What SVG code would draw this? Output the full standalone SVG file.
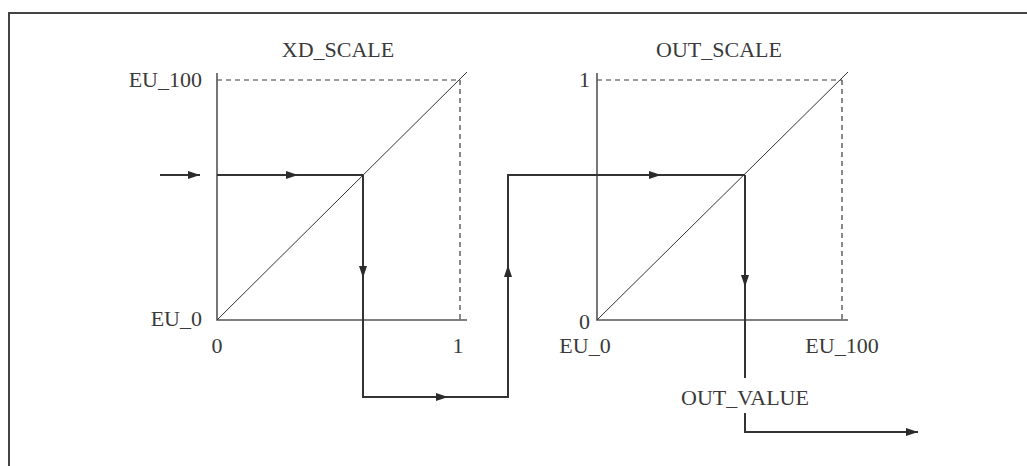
<svg xmlns="http://www.w3.org/2000/svg" width="1027" height="466" viewBox="0 0 1027 466">
<defs>
<marker id="ah" viewBox="0 0 12 8" refX="12" refY="4" markerWidth="12" markerHeight="8" markerUnits="userSpaceOnUse" orient="auto">
<path d="M0,0 L12,4 L0,8 Z" fill="#2b2b2b"/>
</marker>
</defs>
<style>
text{font-family:"Liberation Serif","DejaVu Serif",serif;font-size:22px;fill:#3a3a3a}
.ax{stroke:#555;stroke-width:1.6;fill:none}
.dg{stroke:#333;stroke-width:1;fill:none}
.ds{stroke:#3a3a3a;stroke-width:1.2;fill:none;stroke-dasharray:5,4}
.fl{stroke:#333;stroke-width:2;fill:none}
</style>
<rect x="0" y="0" width="1027" height="466" fill="#fff"/>
<path d="M9,467 V13 H1030" stroke="#444" stroke-width="2" fill="none"/>

<g id="xd_scale">
<line class="ds" x1="217" y1="80" x2="460" y2="80"/>
<line class="ds" x1="460" y1="80" x2="460" y2="320"/>
<path class="ax" d="M217,73 V320 H467"/>
<line class="dg" x1="217" y1="320" x2="467" y2="72"/>
<text x="338" y="57" text-anchor="middle">XD_SCALE</text>
<text x="202" y="87" text-anchor="end">EU_100</text>
<text x="202" y="326" text-anchor="end">EU_0</text>
<text x="217" y="353" text-anchor="middle">0</text>
<text x="458" y="353" text-anchor="middle">1</text>
</g>

<g id="out_scale">
<line class="ds" x1="597" y1="80" x2="842" y2="80"/>
<line class="ds" x1="842" y1="80" x2="842" y2="320"/>
<path class="ax" d="M597,73 V320 H848"/>
<line class="dg" x1="597" y1="320" x2="848" y2="72"/>
<text x="719" y="57" text-anchor="middle">OUT_SCALE</text>
<text x="590" y="87" text-anchor="end">1</text>
<text x="590" y="329" text-anchor="end">0</text>
<text x="585" y="353" text-anchor="middle">EU_0</text>
<text x="842" y="353" text-anchor="middle">EU_100</text>
<text x="745" y="405" text-anchor="middle">OUT_VALUE</text>
</g>

<g id="connectors">
<line class="fl" x1="160" y1="175" x2="200" y2="175" marker-end="url(#ah)"/>
<line class="fl" x1="217" y1="175" x2="298" y2="175" marker-end="url(#ah)"/>
<line class="fl" x1="298" y1="175" x2="363" y2="175"/>
<line class="fl" x1="363" y1="175" x2="363" y2="278" marker-end="url(#ah)"/>
<path class="fl" d="M363,278 V397 H448"/>
<line class="fl" x1="440" y1="397" x2="448" y2="397" marker-end="url(#ah)"/>
<path class="fl" d="M448,397 H508 V265"/>
<line class="fl" x1="508" y1="275" x2="508" y2="265" marker-end="url(#ah)"/>
<path class="fl" d="M508,265 V175 H661"/>
<line class="fl" x1="650" y1="175" x2="661" y2="175" marker-end="url(#ah)"/>
<line class="fl" x1="661" y1="175" x2="745" y2="175"/>
<line class="fl" x1="745" y1="175" x2="745" y2="287" marker-end="url(#ah)"/>
<line class="fl" x1="745" y1="287" x2="745" y2="378"/>
<path class="fl" d="M745,413 V432 H918" marker-end="url(#ah)"/>
</g>
</svg>
